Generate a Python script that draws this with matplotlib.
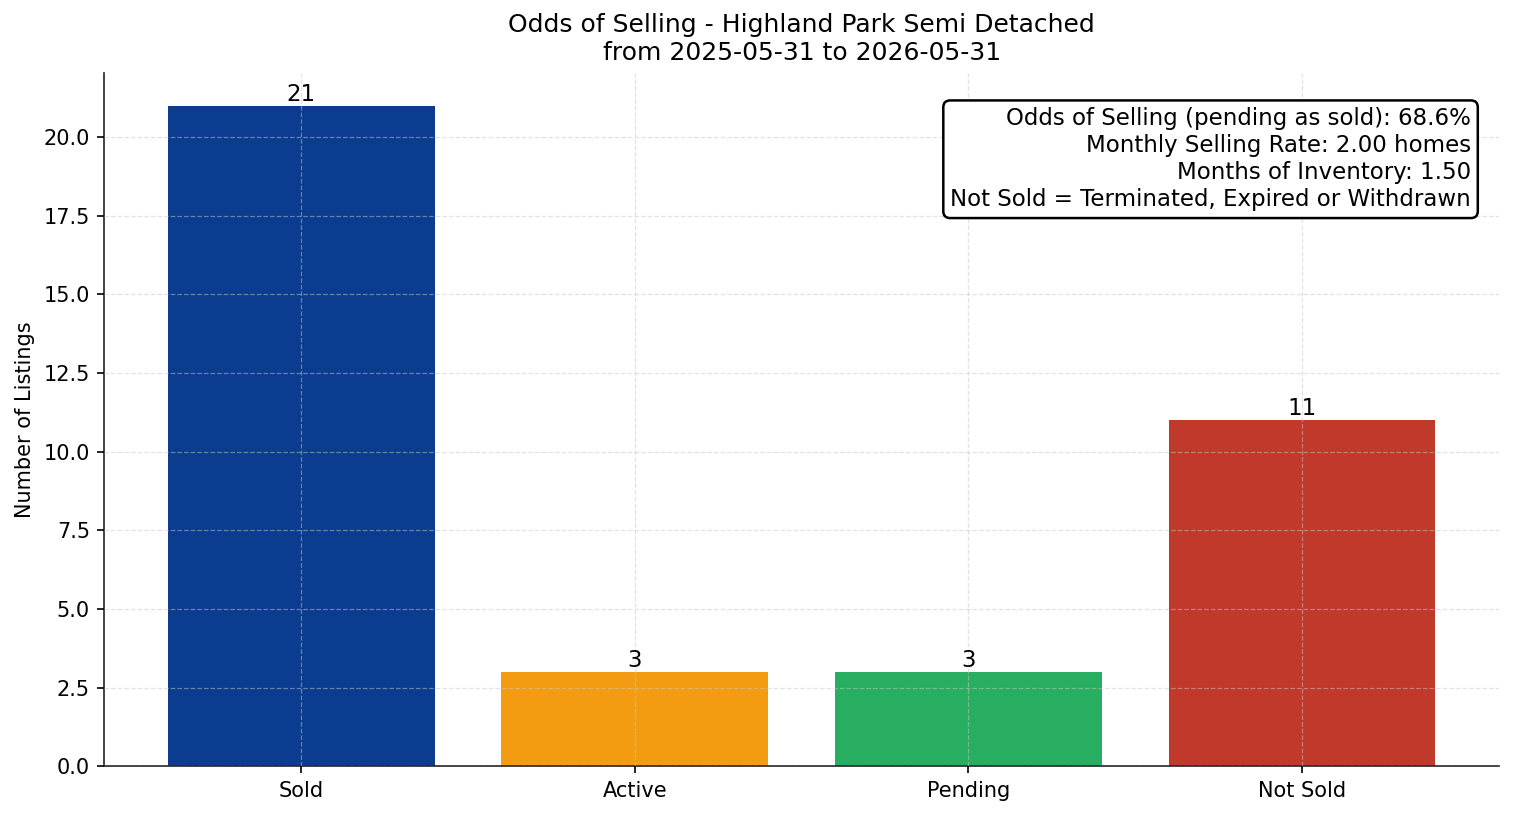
import matplotlib
matplotlib.use("Agg")
import matplotlib.pyplot as plt

# chart data
categories = ['Sold', 'Active', 'Pending', 'Not Sold']
counts = [21, 3, 3, 11]
bar_colors = ['#0b3c8f', '#f39c12', '#27ae60', '#c0392b']

title = 'Odds of Selling - Highland Park Semi Detached\nfrom 2025-05-31 to 2026-05-31'
stats_lines = [
    'Odds of Selling (pending as sold): 68.6%',
    'Monthly Selling Rate: 2.00 homes',
    'Months of Inventory: 1.50',
    'Not Sold = Terminated, Expired or Withdrawn',
]

fig, ax = plt.subplots(figsize=(10.093, 5.44), dpi=150)
bars = ax.bar(categories, counts, color=bar_colors, width=0.8)

for b, v in zip(bars, counts):
    ax.text(b.get_x() + b.get_width() / 2, v, str(v), ha='center', va='bottom', fontsize=11)

ax.set_title(title, fontsize=12)
ax.set_ylabel('Number of Listings', fontsize=10)
ax.tick_params(labelsize=10)

# grid drawn over the bars, light and dashed
ax.grid(True, linestyle='--', alpha=0.5, color='#c8c8c8', linewidth=0.6)
ax.set_axisbelow(False)
for s in ['top', 'right']:
    ax.spines[s].set_visible(False)
for s in ['left', 'bottom']:
    ax.spines[s].set_color('#222222')

ax.text(0.98, 0.95, '\n'.join(stats_lines), transform=ax.transAxes,
        ha='right', va='top', fontsize=11, linespacing=1.22,
        bbox=dict(boxstyle='round,pad=0.3', facecolor='white', edgecolor='black', linewidth=1.2))

fig.subplots_adjust(left=0.069, right=0.99, top=0.911, bottom=0.061)
fig.savefig('out.png', dpi=150)
